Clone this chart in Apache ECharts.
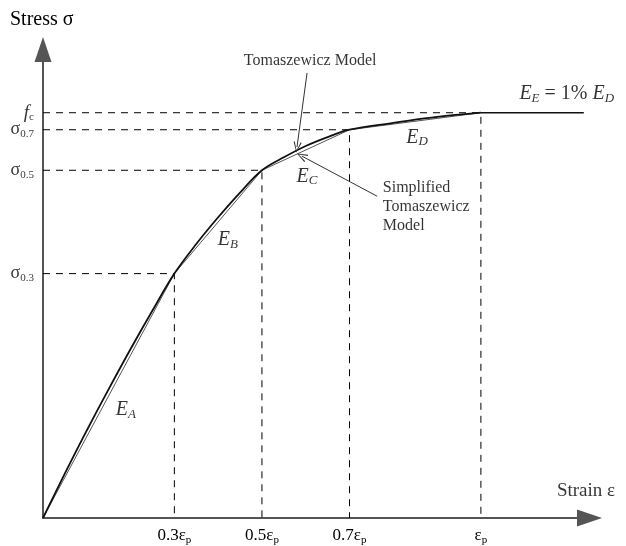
<!DOCTYPE html>
<html>
<head>
<meta charset="utf-8">
<script src="https://cdn.jsdelivr.net/npm/echarts@6/dist/echarts.min.js"></script>
<style>
html,body{margin:0;padding:0;background:#fff;}
#chart{width:626px;height:546px;}
</style>
</head>
<body>
<div id="chart"></div>
<script>
// ---- data (strain as fraction of εp, stress as fraction of fc) ----
const strainKeys = [0.3, 0.5, 0.7, 1.0];
const stressKeys = [0.603, 0.858, 0.958, 1.0];
const xTickLabels = ['0.3ε{s|p}', '0.5ε{s|p}', '0.7ε{s|p}', 'ε{s|p}'];
const yTickLabels = ['σ{s|0.3}', 'σ{s|0.5}', 'σ{s|0.7}', '{i|f}{s|c}'];

const tomStrain = [0, 0.05, 0.1, 0.15, 0.2, 0.25, 0.3, 0.35, 0.4, 0.45, 0.5, 0.55, 0.6, 0.65, 0.7, 0.8, 0.85, 0.9, 1.0];
const tomStress = [0, 0.110, 0.216, 0.318, 0.417, 0.512, 0.603, 0.676, 0.742, 0.803, 0.858, 0.890, 0.918, 0.940, 0.958, 0.975, 0.983, 0.990, 1.0];

const simpStrain = [0, 0.3, 0.5, 0.7, 1.0];
const simpStress = [0, 0.603, 0.858, 0.958, 1.0];

const tailStrain = [1.0, 1.235];
const tailStress = [1.0, 1.0];

// ---- build ----
const FONT = 'Liberation Serif';
const zip = (a, b) => a.map((v, i) => [v, b[i]]);
function lookup(keys, labels) {
  return function (v) {
    for (let i = 0; i < keys.length; i++) if (Math.abs(v - keys[i]) < 1e-6) return labels[i];
    return '';
  };
}
const subRich = {
  s: { fontSize: 11, fontFamily: FONT, color: '#000', verticalAlign: 'bottom', lineHeight: 20, padding: [6, 0, 0, 0] },
  n: { fontSize: 18, fontFamily: FONT, color: '#000', lineHeight: 20 },
  i: { fontSize: 19, fontFamily: FONT, fontStyle: 'italic', color: '#000', lineHeight: 20 }
};
const eRich = {
  E: { fontSize: 20, fontFamily: FONT, fontStyle: 'italic', color: '#000', lineHeight: 22 },
  s: { fontSize: 13, fontFamily: FONT, fontStyle: 'italic', color: '#000', lineHeight: 22, verticalAlign: 'bottom', padding: [7, 0, 0, 0] },
  n: { fontSize: 20, fontFamily: FONT, color: '#000', lineHeight: 22 }
};

const guideSeries = strainKeys.map((e, i) => ({
  type: 'line',
  data: [[0, stressKeys[i]], [e, stressKeys[i]], [e, 0]],
  symbol: 'none',
  silent: true,
  z: 1,
  lineStyle: { color: '#000', width: 1, type: [7, 6] }
}));

const arrowPath = 'path://M0,0 L-4,10 L-3,10.6 L0,2 L3,10.6 L4,10 Z';

function txt(pos, formatter, extra) {
  return {
    value: pos,
    label: Object.assign({ show: true, position: 'inside', formatter: formatter, rich: eRich,
      fontFamily: FONT, color: '#000', textBorderWidth: 0 }, extra || {})
  };
}

// y tick labels as labels anchored on the y axis (stress values)
const yTickSeries = {
  name: 'yTicks', type: 'scatter', symbolSize: 0, silent: true, z: 6,
  data: stressKeys.map((s, i) => ({
    value: [0, s],
    label: {
      show: true, position: 'left', distance: 9,
      formatter: yTickLabels[i].replace(/^σ/, '{n|σ}'),
      rich: subRich, color: '#000', fontFamily: FONT
    }
  }))
};

const option = {
  animation: false,
  backgroundColor: '#fff',
  grid: { left: 43, right: 36.5, top: 49.5, bottom: 25, containLabel: false },
  xAxis: {
    type: 'value', min: 0, max: 1.248,
    axisLine: { show: true, symbol: ['none', 'triangle'], symbolSize: [17, 25], lineStyle: { color: '#555', width: 2 } },
    axisTick: { show: false },
    splitLine: { show: false },
    axisLabel: {
      customValues: strainKeys,
      hideOverlap: false,
      formatter: lookup(strainKeys, xTickLabels),
      margin: 8, color: '#000', fontFamily: FONT, fontSize: 17, lineHeight: 20,
      rich: subRich
    }
  },
  yAxis: {
    type: 'value', min: 0, max: 1.156,
    name: 'Stress σ', nameLocation: 'end', nameGap: 20,
    nameTextStyle: { fontFamily: FONT, fontSize: 20, color: '#000', align: 'left', padding: [0, 0, 0, -33] },
    axisLine: { show: true, symbol: ['none', 'triangle'], symbolSize: [17, 25], lineStyle: { color: '#555', width: 2 } },
    axisTick: { show: false },
    splitLine: { show: false },
    axisLabel: { show: false }
  },
  series: guideSeries.concat([
    {
      name: 'Simplified Tomaszewicz Model', type: 'line', data: zip(simpStrain, simpStress),
      symbol: 'none', z: 3, lineStyle: { color: '#555', width: 1 }
    },
    {
      name: 'Tomaszewicz Model', type: 'line', data: zip(tomStrain, tomStress),
      symbol: 'none', smooth: 0.35, z: 4, lineStyle: { color: '#111', width: 1.8 }
    },
    {
      name: 'tail', type: 'line', data: zip(tailStrain, tailStress),
      symbol: 'none', z: 4, lineStyle: { color: '#111', width: 1.5 }
    },
    yTickSeries,
    {
      name: 'annotations', type: 'scatter', symbolSize: 0, silent: true, z: 6,
      data: [
        txt([0.189, 0.267], '{E|E}{s|A}'),
        txt([0.422, 0.686], '{E|E}{s|B}'),
        txt([0.603, 0.843], '{E|E}{s|C}'),
        txt([0.854, 0.939], '{E|E}{s|D}'),
        txt([1.196, 1.047], '{E|E}{s|E}{n| = 1% }{E|E}{s|D}'),
        txt([0.610, 1.127], 'Tomaszewicz Model', { fontSize: 16, rich: {} }),
        txt([0.776, 0.767], 'Simplified\nTomaszewicz\nModel', { fontSize: 16, lineHeight: 19, align: 'left', rich: {} }),
        txt([1.240, 0.066], 'Strain ε', { fontSize: 19, rich: {} })
      ],
      markLine: {
        silent: true,
        label: { show: false },
        symbolSize: [8, 11],
        lineStyle: { color: '#333', width: 1, type: 'solid' },
        data: [
          [{ coord: [0.603, 1.098], symbol: 'none' }, { coord: [0.580, 0.915], symbol: arrowPath }],
          [{ coord: [0.763, 0.794], symbol: 'none' }, { coord: [0.591, 0.893], symbol: arrowPath }]
        ]
      }
    }
  ])
};

const chart = echarts.init(document.getElementById('chart'), null, { renderer: 'canvas' });
chart.setOption(option);
</script>
</body>
</html>
